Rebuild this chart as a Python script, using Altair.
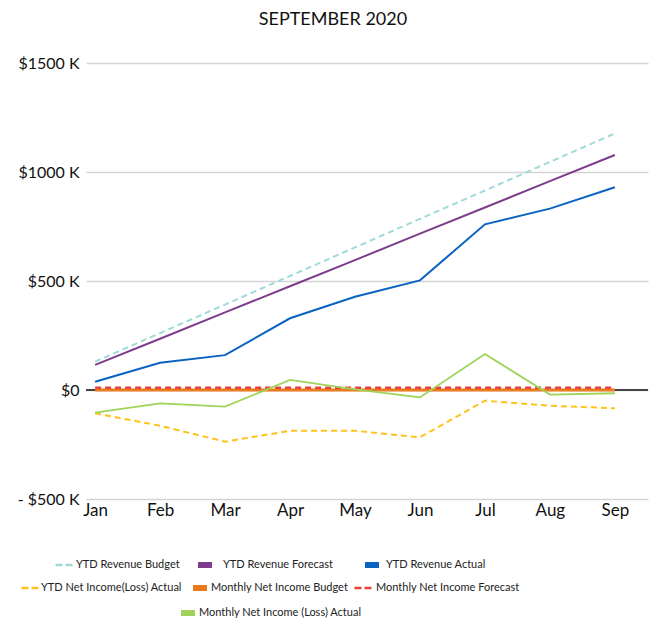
import altair as alt
import pandas as pd

MONTHS = ["Jan", "Feb", "Mar", "Apr", "May", "Jun", "Jul", "Aug", "Sep"]

SERIES = [
    "YTD Revenue Budget",
    "YTD Revenue Forecast",
    "YTD Revenue Actual",
    "YTD Net Income(Loss) Actual",
    "Monthly Net Income Budget",
    "Monthly Net Income Forecast",
    "Monthly Net Income (Loss) Actual",
]

ytd_revenue_budget = [130, 261, 392, 523, 654, 785, 915, 1046, 1177]
ytd_revenue_forecast = [115, 235, 356, 476, 596, 717, 837, 958, 1078]
ytd_revenue_actual = [38, 125, 160, 329, 428, 503, 760, 832, 930]
ytd_net_income_actual = [-107, -164, -237, -187, -187, -217, -49, -72, -84]
monthly_net_income_budget = [0, 0, 0, 0, 0, 0, 0, 0, 0]
monthly_net_income_forecast = [10, 10, 10, 10, 10, 10, 10, 10, 10]
monthly_net_income_actual = [-104, -61, -76, 46, 3, -34, 165, -21, -15]

# styles per series
COLORS = ["#9fd9da", "#7d3c8c", "#0a63c2", "#ffc21a", "#ea7a1c", "#e8413a", "#9fd35a"]
DASHES = [[6, 4], None, None, [6, 4], None, [6, 4], None]
WIDTHS = [2, 2, 2, 2, 3, 2.5, 1.8]
# legend entry placement: (x of symbol relative to plot left, y of entry top relative to plot top, label offset)
LEGEND_PLACE = [(-32, 492, 2), (109, 492, 8), (276, 492, 4),
                (-66, 515, 1), (104, 515, 1), (267, 515, 3),
                (92, 540, 1)]

values = [
    ytd_revenue_budget,
    ytd_revenue_forecast,
    ytd_revenue_actual,
    ytd_net_income_actual,
    monthly_net_income_budget,
    monthly_net_income_forecast,
    monthly_net_income_actual,
]

rows = []
for s, vals in zip(SERIES, values):
    for i, (m, v) in enumerate(zip(MONTHS, vals)):
        rows.append({"series": s, "idx": i, "month": m, "value": v})
df = pd.DataFrame(rows)

month_expr = "[" + ",".join(f"'{m}'" for m in MONTHS) + "][datum.value]"
FONT = "Lato"

y_axis = alt.Axis(
    values=[-500, 0, 500, 1000, 1500],
    labelExpr="datum.value == 0 ? '$0' : (datum.value < 0 ? '- $' + abs(datum.value) + ' K' : '$' + datum.value + ' K')",
    domain=False,
    ticks=False,
    grid=True,
    gridColor="#d4d4d4",
    gridWidth=1.5,
    labelFontSize=16,
    labelColor="#111",
    labelFont=FONT,
    labelPadding=7,
    title=None,
)

x_axis = alt.Axis(
    values=list(range(len(MONTHS))),
    labelExpr=month_expr,
    domain=False,
    ticks=False,
    grid=False,
    labelFontSize=17,
    labelColor="#111",
    labelFont=FONT,
    labelPadding=3,
    title=None,
)

x_enc = alt.X("idx:Q", axis=x_axis, scale=alt.Scale(domain=[-0.14, 8.51], nice=False, zero=False))
y_enc = alt.Y("value:Q", axis=y_axis, scale=alt.Scale(domain=[-500, 1500], nice=False))

layers = []
for k, s in enumerate(SERIES):
    lx, ly, loff = LEGEND_PLACE[k]
    dashed = DASHES[k] is not None
    mark_kw = {"strokeWidth": WIDTHS[k]}
    legend_kw = {}
    if dashed:
        mark_kw["strokeDash"] = DASHES[k]
        legend_kw["symbolDash"] = [7, 3]
    layer = (
        alt.Chart(df)
        .transform_filter(alt.datum.series == s)
        .mark_line(**mark_kw)
        .encode(
            x=x_enc,
            y=y_enc,
            color=alt.Color(
                "series:N",
                scale=alt.Scale(domain=[s], range=[COLORS[k]]),
                legend=alt.Legend(
                    title=None,
                    orient="none",
                    legendX=lx,
                    legendY=ly,
                    symbolType="stroke",
                    symbolSize=289 if dashed else 196,
                    symbolStrokeWidth=2.6 if dashed else 6,
                    labelFontSize=11,
                    labelFont=FONT,
                    labelColor="#222",
                    labelOffset=loff,
                    labelLimit=300,
                    **legend_kw,
                ),
            ),
            order=alt.Order("idx:Q"),
        )
    )
    layers.append(layer)

zero = alt.Chart(df).mark_rule(color="#444", strokeWidth=1.5).encode(y=alt.datum(0))

chart = (
    alt.layer(zero, *layers)
    .resolve_scale(color="independent")
    .properties(
        width=562,
        height=436,
        padding={"left": 9, "top": 3, "right": 0, "bottom": 0},
        title=alt.Title(
            "SEPTEMBER 2020",
            fontSize=18,
            font=FONT,
            fontWeight="normal",
            color="#111",
            offset=26,
            anchor="middle",
            frame="bounds",
        ),
    )
    .configure_view(stroke=None)
)

chart.save("out.html", embed_options={"renderer": "svg", "actions": False})
